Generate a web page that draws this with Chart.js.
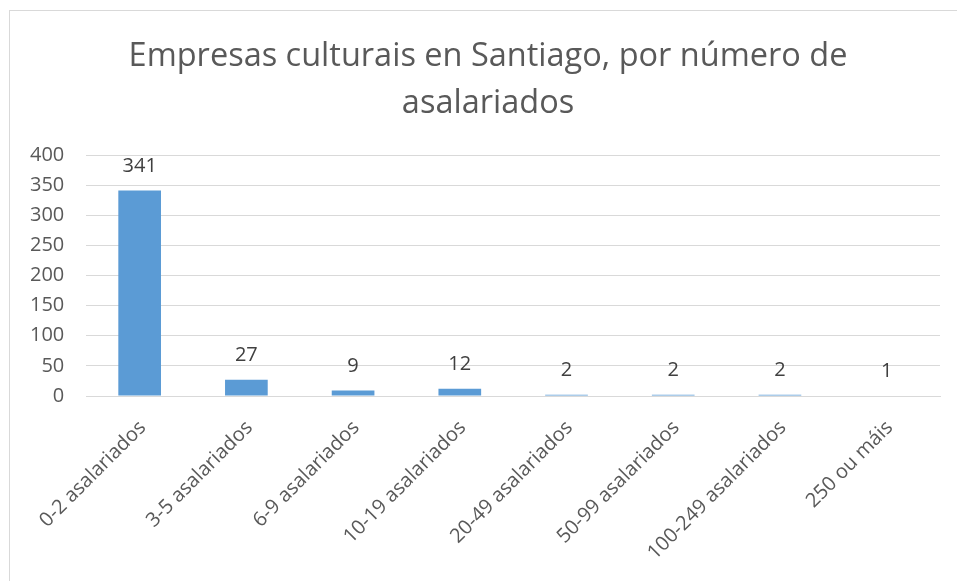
<!DOCTYPE html>
<html>
<head>
<meta charset="utf-8">
<script src="https://cdn.jsdelivr.net/npm/chart.js@4.4.1/dist/chart.umd.min.js"></script>
<style>
    html, body { margin: 0; padding: 0; background: #fff; }
    #wrap { position: relative; width: 957px; height: 581px; overflow: hidden; }
    #frame {
        position: absolute; left: 9px; top: 10px; width: 960px; height: 590px;
        border: 1px solid #d9d9d9; box-sizing: border-box; pointer-events: none;
    }
</style>
</head>
<body>
<div id="wrap">
    <canvas id="chart" width="957" height="581"></canvas>
    <div id="frame"></div>
</div>
<script>
const categories = [
    '0-2 asalariados',
    '3-5 asalariados',
    '6-9 asalariados',
    '10-19 asalariados',
    '20-49 asalariados',
    '50-99 asalariados',
    '100-249 asalariados',
    '250 ou máis'
];
const empresas = [341, 27, 9, 12, 2, 2, 2, 1];
const titleLines = ['Empresas culturais en Santiago, por número de', 'asalariados'];

const textColor = '#595959';
const fontFamily = '"Open Sans", "Liberation Sans", sans-serif';

// etiquetas de valor encima de cada barra
const barLabels = {
    id: 'barLabels',
    afterDatasetsDraw(chart) {
        const ctx = chart.ctx;
        const meta = chart.getDatasetMeta(0);
        ctx.save();
        ctx.font = '20px ' + fontFamily;
        ctx.fillStyle = '#404040';
        ctx.textAlign = 'center';
        ctx.textBaseline = 'middle';
        meta.data.forEach((bar, i) => {
            ctx.fillText(String(chart.data.datasets[0].data[i]), bar.x, bar.y - 24.5);
        });
        ctx.restore();
    }
};

// o título do orixinal está un pouco desprazado á dereita
const shiftTitle = {
    id: 'shiftTitle',
    afterLayout(chart) {
        if (chart.titleBlock) {
            chart.titleBlock.left += 14;
            chart.titleBlock.right += 14;
        }
    }
};

new Chart(document.getElementById('chart').getContext('2d'), {
    type: 'bar',
    data: {
        labels: categories,
        datasets: [{
            data: empresas,
            backgroundColor: '#5b9bd5',
            categoryPercentage: 1,
            barPercentage: 0.4
        }]
    },
    options: {
        responsive: false,
        animation: false,
        layout: {
            padding: { left: 8, right: 17, top: 0, bottom: 0 }
        },
        scales: {
            x: {
                grid: { display: false, drawTicks: false },
                border: { color: '#d9d9d9', width: 1 },
                ticks: {
                    color: textColor,
                    font: { family: fontFamily, size: 20 },
                    maxRotation: 45,
                    minRotation: 45,
                    padding: 20,
                    labelOffset: 3,
                    autoSkip: false
                },
                afterFit(scale) {
                    scale.height = 185;
                }
            },
            y: {
                min: 0,
                max: 400,
                grid: { color: '#d9d9d9', lineWidth: 1, drawTicks: false },
                border: { display: false },
                ticks: {
                    stepSize: 50,
                    color: textColor,
                    font: { family: fontFamily, size: 20 },
                    padding: 22
                }
            }
        },
        plugins: {
            legend: { display: false },
            tooltip: { enabled: false },
            title: {
                display: true,
                text: titleLines,
                color: textColor,
                font: { family: fontFamily, size: 32.5, weight: 'normal', lineHeight: 1.437 },
                padding: { top: 33.3, bottom: 28.3 }
            }
        }
    },
    plugins: [barLabels, shiftTitle]
});
</script>
</body>
</html>
